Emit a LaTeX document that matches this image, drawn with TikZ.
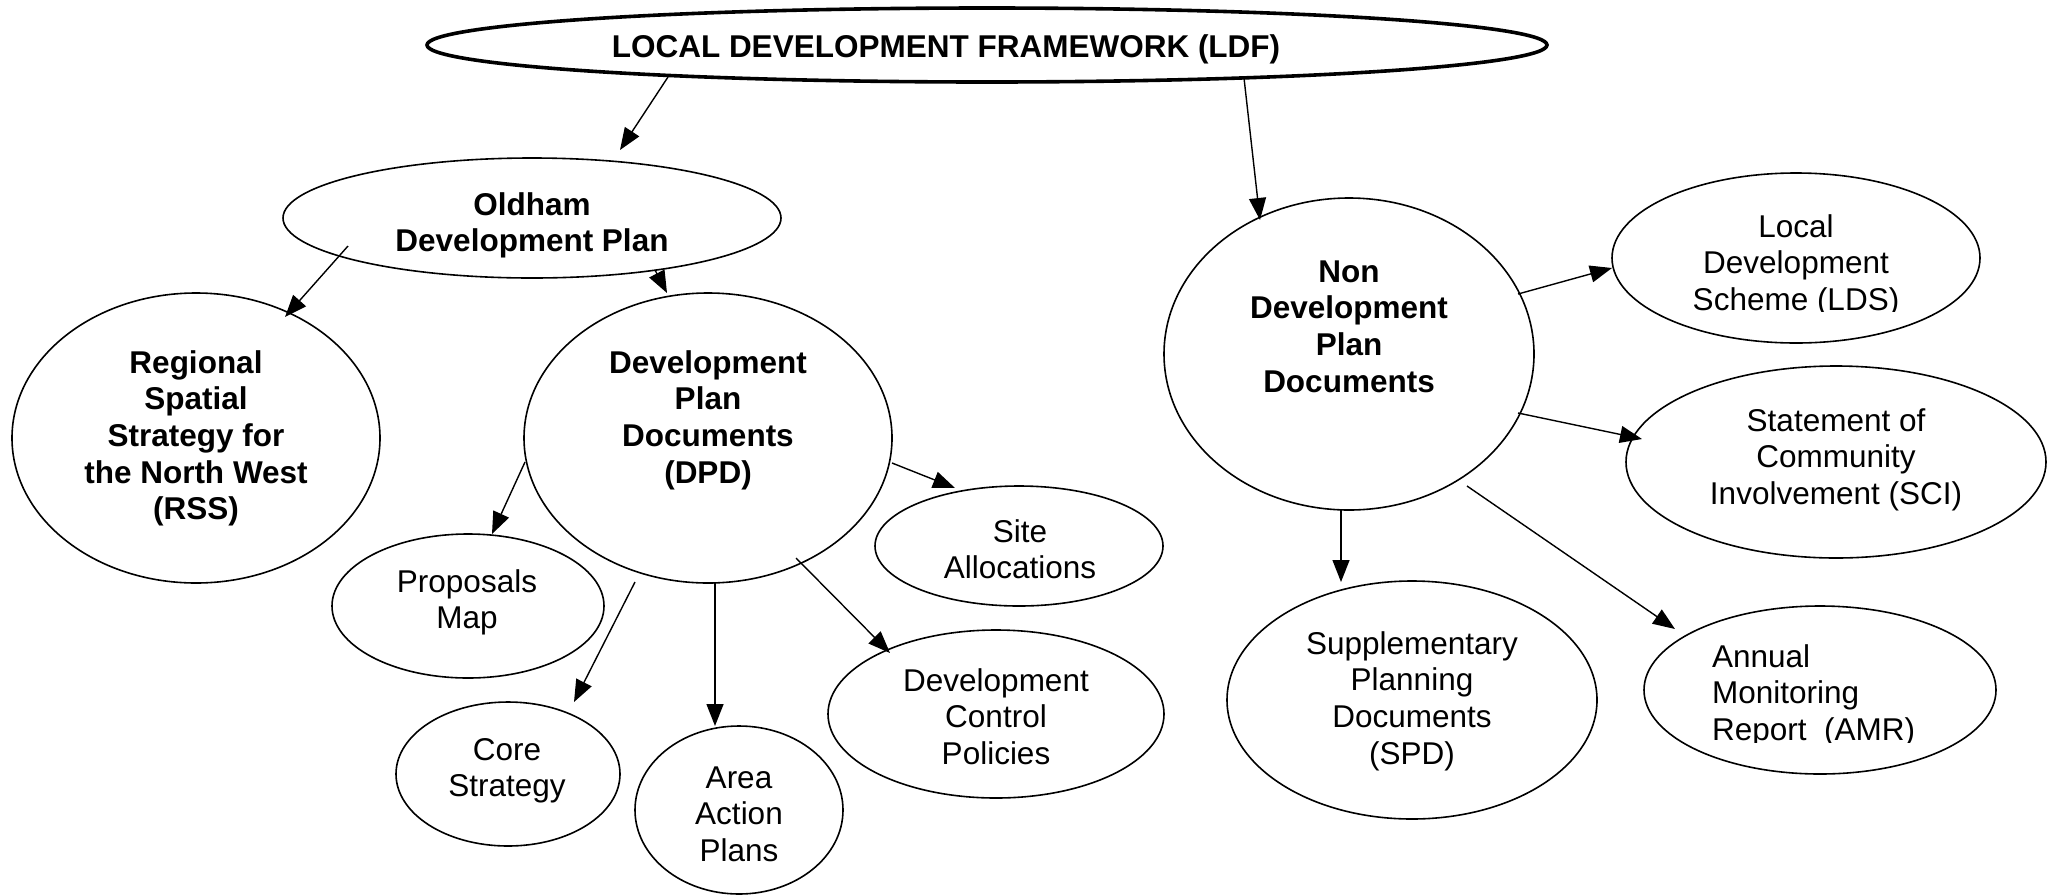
\documentclass[tikz,border=0pt]{standalone}
\usepackage{fontspec}
\setmainfont{Liberation Sans}
\usetikzlibrary{arrows.meta,calc,shapes.geometric}
\newcommand{\mlc}[1]{\begin{tabular}[t]{@{}c@{}}#1\end{tabular}}
\newcommand{\mll}[1]{\begin{tabular}[t]{@{}l@{}}#1\end{tabular}}
\begin{document}
\begin{tikzpicture}[x=1pt,y=-1pt,
  ell/.style={ellipse,draw,line width=1.6pt,inner sep=0pt,outer sep=0pt},
  txt/.style={anchor=base,inner sep=0pt,outer sep=0pt,font=\fontsize{31.5}{36.7}\selectfont},
  btxt/.style={txt,font=\fontsize{31.5}{36.7}\selectfont\bfseries},
  ltxt/.style={txt,anchor=base west},
  arr/.style={-{Triangle[length=22pt,width=17pt]},line width=1.4pt}]
\useasboundingbox (0,0) rectangle (2058,895);

% ellipses
\node[ell,line width=3.6pt,minimum width=1120pt,minimum height=74pt] (ldf) at (987,45) {};
\node[ell,minimum width=498pt,minimum height=120pt] (oldham) at (532,218) {};
\node[ell,minimum width=368pt,minimum height=290pt] (rss) at (196,438) {};
\node[ell,minimum width=368pt,minimum height=290pt] (dpd) at (708,438) {};
\node[ell,minimum width=370pt,minimum height=312pt] (ndpd) at (1349,354) {};
\node[ell,minimum width=368pt,minimum height=170pt] (lds) at (1796,258) {};
\node[ell,minimum width=420pt,minimum height=192pt] (sci) at (1836,462) {};
\node[ell,minimum width=370pt,minimum height=238pt] (spd) at (1412,700) {};
\node[ell,minimum width=352pt,minimum height=168pt] (amr) at (1820,690) {};
\node[ell,minimum width=272pt,minimum height=144pt] (prop) at (468,606) {};
\node[ell,minimum width=224pt,minimum height=144pt] (core) at (508,774) {};
\node[ell,minimum width=208pt,minimum height=168pt] (area) at (739,810) {};
\node[ell,minimum width=288pt,minimum height=120pt] (site) at (1019,546) {};
\node[ell,minimum width=336pt,minimum height=168pt] (dcp) at (996,714) {};

% texts
\node[btxt] (ldf-t) at (946,57) {LOCAL DEVELOPMENT FRAMEWORK (LDF)};
\node[btxt] (oldham-t) at (532,215) {\mlc{Oldham\\Development Plan}};
\node[btxt] (rss-t) at (196,373) {\mlc{Regional\\Spatial\\Strategy for\\the North West\\(RSS)}};
\node[btxt] (dpd-t) at (708,373) {\mlc{Development\\Plan\\Documents\\(DPD)}};
\node[btxt] (ndpd-t) at (1349,282) {\mlc{Non\\Development\\Plan\\Documents}};
\begin{scope}
  \clip (1600,170) rectangle (2000,311);
  \node[txt] (lds-t) at (1796,237) {\mlc{Local\\Development\\Scheme (LDS)}};
\end{scope}
\node[txt] (sci-t) at (1836,431) {\mlc{Statement of\\Community\\Involvement (SCI)}};
\node[txt] (spd-t) at (1412,654) {\mlc{Supplementary\\Planning\\Documents\\(SPD)}};
\begin{scope}
  \clip (1650,600) rectangle (2000,742);
  \node[ltxt] (amr-t) at (1712,667) {\mll{Annual\\Monitoring\\Report\ \ (AMR)}};
\end{scope}
\node[txt] (prop-t) at (467,592) {\mlc{Proposals\\Map}};
\node[txt] (core-t) at (507,760) {\mlc{Core\\Strategy}};
\node[txt] (area-t) at (739,788) {\mlc{Area\\Action\\Plans}};
\node[txt] (site-t) at (1020,542) {\mlc{Site\\Allocations}};
\node[txt] (dcp-t) at (996,691) {\mlc{Development\\Control\\Policies}};

% connectors
\draw[arr] ($(ldf)+(-319,32)$) -- ($(oldham)+(88,-68)$);
\draw[arr] ($(ldf)+(257,33)$) -- ($(ndpd)+(-89,-134)$);
\draw[arr] ($(oldham)+(-184,28)$) -- ($(rss)+(89,-121)$);
\draw[arr] ($(oldham)+(123,52)$) -- ($(dpd)+(-41,-145)$);
\draw[arr] ($(dpd)+(-183,24)$) -- ($(prop)+(24,-72)$);
\draw[arr] ($(dpd)+(-73,144)$) -- ($(core)+(66,-72)$);
\draw[arr] ($(dpd)+(7,144)$) -- ($(area)+(-24,-84)$);
\draw[arr] ($(dpd)+(184,25)$) -- ($(site)+(-64,-58)$);
\draw[arr] ($(dpd)+(88,120)$) -- ($(dcp)+(-106,-61)$);
\draw[arr] ($(ndpd)+(169,-60)$) -- ($(lds)+(-184,10)$);
\draw[arr] ($(ndpd)+(169,59)$) -- ($(sci)+(-194,-23)$);
\draw[arr] ($(ndpd)+(-8,156)$) -- ($(spd)+(-71,-118)$);
\draw[arr] ($(ndpd)+(118,132)$) -- ($(amr)+(-145,-61)$);
\end{tikzpicture}
\end{document}
